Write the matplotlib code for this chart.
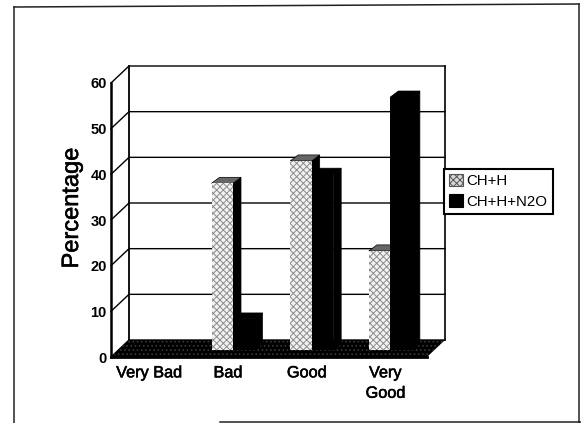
import matplotlib
matplotlib.use("Agg")
import matplotlib.pyplot as plt
import matplotlib.patheffects as pe
from matplotlib.lines import Line2D
from matplotlib.patches import Patch, Polygon

plt.rcParams['font.family'] = ['Liberation Sans', 'DejaVu Sans']
plt.rcParams['hatch.linewidth'] = 0.7

categories = ["Very Bad", "Bad", "Good", "Very\nGood"]
ch_h = [0, 36.5, 41.4, 21.7]
ch_h_n2o = [0, 6.8, 38.5, 55.4]
y_ticks = [0, 10, 20, 30, 40, 50, 60]

W, H = 581, 423
# one pixel in data units on the front plane
PX = 1 / 78.7
PY = 60 / 274

fig = plt.figure(figsize=(W / 100, H / 100), dpi=100)
ax = fig.add_axes([111 / W, (H - 357) / H, 316 / W, 274 / H])
ax.set_xlim(-0.487, 3.529)
ax.set_ylim(0, 60)
ax.patch.set_visible(False)
for s in ax.spines.values():
    s.set_visible(False)


# shift a data point by a number of pixels (depth of the oblique view)
def shift(x, y, dx, dy):
    return (x + dx * PX, y + dy * PY)


def poly(pts, **kw):
    p = Polygon(pts, closed=True, clip_on=False, **kw)
    ax.add_patch(p)
    return p


# walls
x0, x1 = ax.get_xlim()
WALL = (18, 17)
for v in y_ticks:
    a = (x0, v)
    b = shift(x0, v, *WALL)
    c = shift(x1, v, *WALL)
    ax.plot([a[0], b[0], c[0]], [a[1], b[1], c[1]], color="black", lw=1.0,
            clip_on=False, zorder=1)
ax.plot([x0, x0], [0, 60], color="black", lw=1.8, clip_on=False, zorder=2)
for xx, lw in [(x0, 1.3), (x1, 1.2)]:
    b = shift(xx, 0, *WALL)
    t = shift(xx, 60, *WALL)
    ax.plot([b[0], t[0]], [b[1], t[1]], color="black", lw=lw, clip_on=False, zorder=1)

# floor
poly([(x0, 0), (x1, 0), shift(x1, 0, *WALL), shift(x0, 0, *WALL)],
     facecolor="black", edgecolor="#3a3a3a", hatch="....", lw=0, zorder=2)
ax.plot([x0, x1], [0, 0], color="black", lw=2, clip_on=False, zorder=2)

# bars
BAR_W = 21.5 * PX
BAR_DX, BAR_DY = 5, 7
DEPTH = (8, 6)
pos = list(range(len(categories)))

for i in pos:
    for j, vals in enumerate([ch_h, ch_h_n2o]):
        v = vals[i]
        if v == 0:
            continue
        left = i + BAR_DX * PX - BAR_W + j * BAR_W
        right = left + BAR_W
        base = BAR_DY * PY
        top = base + v
        solid = j == 1
        # side and top faces
        poly([(right, base), shift(right, base, *DEPTH), shift(right, top, *DEPTH), (right, top)],
             facecolor="black", edgecolor="black", lw=0.5, zorder=3 + i + j)
        poly([(left, top), (right, top), shift(right, top, *DEPTH), shift(left, top, *DEPTH)],
             facecolor="black" if solid else "#666666",
             edgecolor="black", lw=0.5, zorder=3 + i + j)
        if solid:
            ax.bar(left, v, BAR_W, bottom=base, align="edge", color="black",
                   clip_on=False, zorder=3 + i + j)
        else:
            ax.bar(left, v, BAR_W, bottom=base, align="edge", facecolor="#f2f2f2",
                   edgecolor="#8c8c8c", hatch="xxxxx", lw=0, clip_on=False,
                   zorder=3 + i + j)

# axes text
heavy = [pe.withStroke(linewidth=0.4, foreground="black")]
ax.set_yticks(y_ticks)
ax.set_yticklabels([str(v) for v in y_ticks], fontsize=10.5, fontweight="bold")
ax.set_xticks(pos)
ax.set_xticklabels(categories, fontsize=11.7, linespacing=1.45, path_effects=heavy)
ax.tick_params(axis="both", length=0)
ax.tick_params(axis="y", pad=3)
ax.tick_params(axis="x", pad=6)
ax.set_ylabel("Percentage", fontsize=17, path_effects=heavy)
ax.yaxis.set_label_coords((83 - 111) / 316, (357 - 208) / 274)

# legend
handles = [Patch(facecolor="#d8d8d8", edgecolor="#555555", hatch="xxxxx", lw=0.8),
           Patch(facecolor="black", edgecolor="black", lw=0.8)]
leg = fig.legend(handles, ["CH+H", "CH+H+N2O"], loc="lower left",
                 bbox_to_anchor=(444 / W, (H - 214) / H), fontsize=10.8,
                 frameon=True, fancybox=False, edgecolor="black", framealpha=1,
                 borderpad=0.35, labelspacing=0.4, handlelength=0.9, handleheight=0.9,
                 handletextpad=0.25, borderaxespad=0)
leg.get_frame().set_linewidth(1.5)

# scan border around the page
border = [([14, 14], [423, 7]), ([14, 579], [7, 4]), ([579, 579], [4, 423]), ([220, 581], [422, 422])]
for xs, ys in border:
    fig.add_artist(Line2D([x / W for x in xs], [(H - y) / H for y in ys],
                          color="#222222", lw=1.1))

fig.savefig("out.png", dpi=100)
